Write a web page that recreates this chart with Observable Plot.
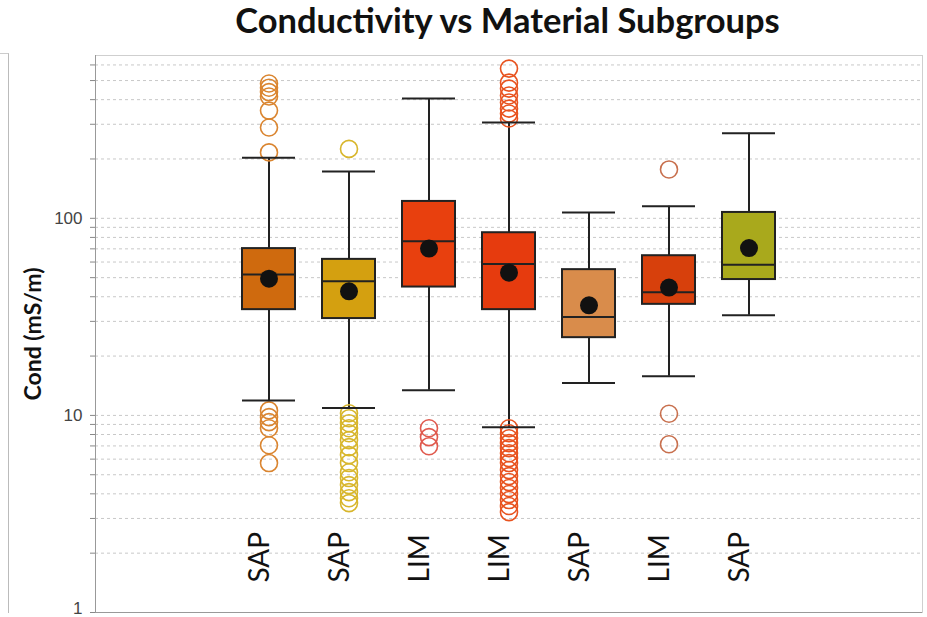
<!DOCTYPE html>
<html>
<head>
<meta charset="utf-8">
<script src="https://cdn.jsdelivr.net/npm/d3@7"></script>
<script src="https://cdn.jsdelivr.net/npm/@observablehq/plot@0.6"></script>
<style>
  html, body { margin: 0; padding: 0; background: #fff; }
  body { width: 927px; height: 617px; overflow: hidden; position: relative; }
  #title { box-sizing: border-box; width: 927px; height: 46px; padding-left: 88px; text-align: center;
           font-family: Lato, "Open Sans", sans-serif; font-weight: bold; font-size: 34.5px; line-height: 39px; color: #111; }
  #edge { position: absolute; left: 0; top: 53px; width: 8px; height: 559px; border-right: 1px solid #bbb; border-top: 1px solid #ccc; }
  #chart svg { display: block; overflow: visible; }
</style>
</head>
<body>
<div id="edge"></div>
<div id="title">Conductivity vs Material Subgroups</div>
<div id="chart"></div>
<script>
// ---- data ----
const ids = ["g1", "g2", "g3", "g4", "g5", "g6", "g7"];
const groups = ["SAP", "SAP", "LIM", "LIM", "SAP", "LIM", "SAP"];
const q1 = [34.4, 31.0, 44.8, 34.4, 24.8, 36.6, 48.9];
const q3 = [70.2, 61.9, 121.8, 84.5, 54.9, 64.6, 107.1];
const medians = [51.8, 47.9, 76.4, 58.6, 31.6, 42.1, 58.2];
const means = [49.4, 42.6, 70.2, 53.0, 36.2, 44.5, 70.6];
const whiskerLow = [11.9, 10.9, 13.4, 8.7, 14.6, 15.8, 32.2];
const whiskerHigh = [203, 173, 406, 306, 107, 115, 270];
const outliers = [
  [483, 460, 437, 415, 352, 289, 216, 10.6, 9.8, 9.24, 8.61, 7.06, 5.73],
  [225, 10.26, 9.68, 9.13, 8.61, 8.12, 7.49, 6.90, 6.29, 5.73, 5.15, 4.81, 4.43, 4.08, 3.80, 3.59],
  [8.61, 7.76, 6.98],
  [575, 488, 455, 420, 387, 360, 340, 321, 8.61, 8.12, 7.66, 7.23, 6.82, 6.43, 6.07, 5.73, 5.28, 4.92, 4.59, 4.28, 3.99, 3.72, 3.47, 3.23],
  [],
  [177, 10.2, 7.14],
  []
];
const boxColors = ["#CF6A0E", "#D4A010", "#E8400E", "#E63B0E", "#D98C4B", "#D7400C", "#A9A91C"];
const outlierColors = ["#DA8530", "#D8B62C", "#E05A4E", "#E8531F", "#D9904F", "#C8704E", "#AAAA30"];
const yTicks = [1, 2, 3, 4, 5, 6, 7, 8, 9, 10, 20, 30, 40, 50, 60, 70, 80, 90, 100, 200, 300, 400, 500, 600];
const yTickLabels = [10, 100];
const yBottomLabel = [1];
const yLabel = "Cond (mS/m)";

// ---- tables built from the arrays ----
const rows = ids.map((id, i) => ({
  id, group: groups[i], q1: q1[i], q3: q3[i], med: medians[i], mean: means[i],
  lo: whiskerLow[i], hi: whiskerHigh[i], fill: boxColors[i]
}));
const outData = ids.flatMap((id, i) => outliers[i].map(v => ({ id, v, color: outlierColors[i] })));

const chart = Plot.plot({
  width: 927,
  height: 571,
  marginTop: 9,
  marginBottom: 5,
  marginLeft: 95,
  marginRight: 5,
  x: { type: "band", domain: ids, paddingInner: 0.3375, paddingOuter: 1.8375, axis: null },
  y: { type: "log", domain: [1, 670], axis: null },
  color: { type: "identity" },
  marks: [
    Plot.ruleY(yTicks.filter(d => d > 1), { stroke: "#c8c8c8", strokeDasharray: "3,3", strokeWidth: 1 }),
    Plot.frame({ stroke: "#cfcfcf" }),
    Plot.ruleY([1], { stroke: "#999" }),
    Plot.frame({ anchor: "left", stroke: "#999" }),
    Plot.axisY(yTicks, {
      tickSize: 5, tickPadding: 8, stroke: "#888", fill: "#444", fontSize: 17,
      fontFamily: "Liberation Sans, Arial, sans-serif", label: null,
      tickFormat: d => yTickLabels.includes(d) ? String(d) : ""
    }),
    Plot.text(yBottomLabel, {
      y: d => d, frameAnchor: "left", dx: -13, dy: 1, textAnchor: "end", lineAnchor: "bottom",
      text: d => String(d), fontSize: 17, fontFamily: "Liberation Sans, Arial, sans-serif", fill: "#444"
    }),
    Plot.text([yLabel], {
      frameAnchor: "left", dx: -62, rotate: -90, textAnchor: "middle", fontSize: 23, fontWeight: "bold",
      fontFamily: "Lato, sans-serif", fill: "#111"
    }),
    Plot.text(rows, {
      x: "id", text: "group", frameAnchor: "bottom", dy: -30, rotate: -90, textAnchor: "start",
      fontSize: 28, fontFamily: "Lato, sans-serif", fill: "#111"
    }),
    Plot.ruleX(rows, { x: "id", y1: "lo", y2: "hi", stroke: "#222", strokeWidth: 2 }),
    Plot.dot(outData, { x: "id", y: "v", r: 8.5, stroke: "color", fill: "none", strokeWidth: 1.6 }),
    Plot.tickY(rows, { x: "id", y: "lo", stroke: "#222", strokeWidth: 2 }),
    Plot.tickY(rows, { x: "id", y: "hi", stroke: "#222", strokeWidth: 2 }),
    Plot.barY(rows, { x: "id", y1: "q1", y2: "q3", fill: "fill", stroke: "#222", strokeWidth: 2 }),
    Plot.tickY(rows, { x: "id", y: "med", stroke: "#222", strokeWidth: 2 }),
    Plot.dot(rows, { x: "id", y: "mean", r: 9, fill: "#111" })
  ]
});
document.getElementById("chart").appendChild(chart);
</script>
</body>
</html>
